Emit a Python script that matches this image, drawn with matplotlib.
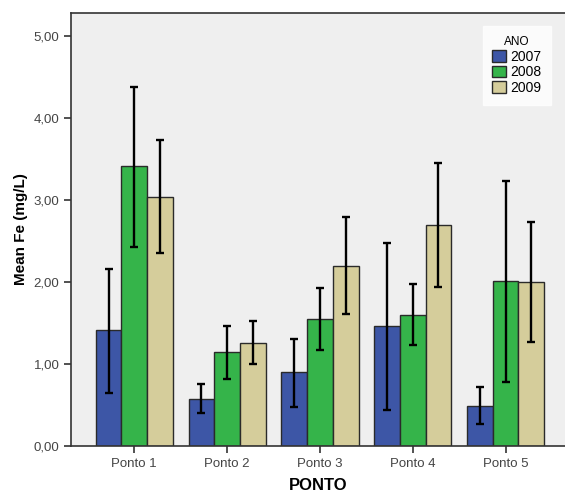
import matplotlib.pyplot as plt
import numpy as np

# data
pontos = ['Ponto 1', 'Ponto 2', 'Ponto 3', 'Ponto 4', 'Ponto 5']
anos = ['2007', '2008', '2009']
mean_2007 = [1.41, 0.57, 0.90, 1.46, 0.49]
mean_2008 = [3.41, 1.14, 1.55, 1.60, 2.01]
mean_2009 = [3.04, 1.26, 2.20, 2.70, 2.00]
low_2007 = [0.65, 0.40, 0.48, 0.44, 0.27]
high_2007 = [2.16, 0.76, 1.31, 2.47, 0.72]
low_2008 = [2.43, 0.82, 1.17, 1.23, 0.78]
high_2008 = [4.38, 1.46, 1.93, 1.98, 3.23]
low_2009 = [2.35, 1.00, 1.61, 1.94, 1.27]
high_2009 = [3.73, 1.52, 2.79, 3.45, 2.73]

colors = ['#3d56a6', '#35b44a', '#d5cd9b']

plt.rcParams['font.family'] = ['Liberation Sans', 'DejaVu Sans']

fig = plt.figure(figsize=(5.65, 4.95), dpi=100)
ax = fig.add_axes([0.126, 0.099, 0.874, 0.875])
ax.set_facecolor('#efefef')

x = np.arange(len(pontos))
w = 0.277
means = [mean_2007, mean_2008, mean_2009]
lows = [low_2007, low_2008, low_2009]
highs = [high_2007, high_2008, high_2009]
for i in range(3):
    pos = x + (i - 1) * w
    m = np.array(means[i])
    err = [m - np.array(lows[i]), np.array(highs[i]) - m]
    ax.bar(pos, m, w, color=colors[i], edgecolor='#2a2a2a', linewidth=1.0,
           label=anos[i], zorder=2)
    ax.errorbar(pos, m, yerr=err, fmt='none', ecolor='black', elinewidth=1.7,
                capsize=2.6, capthick=1.7, zorder=3)

ax.set_xlim(-0.68, 4.64)
ax.set_ylim(0, 5.28)
ax.set_yticks([0, 1, 2, 3, 4, 5])
ax.set_yticklabels(['0,00', '1,00', '2,00', '3,00', '4,00', '5,00'])
ax.set_xticks(x)
ax.set_xticklabels(pontos)
ax.tick_params(axis='both', labelsize=9.5, color='#333333', labelcolor='#444444',
               length=5, width=1.2)
ax.spines['right'].set_visible(False)
for s in ['left', 'bottom', 'top']:
    ax.spines[s].set_color('#333333')
    ax.spines[s].set_linewidth(1.2)

ax.set_ylabel('Mean Fe (mg/L)', fontsize=11, fontweight='bold', labelpad=4)
ax.set_xlabel('PONTO', fontsize=12, fontweight='bold', labelpad=6)

leg = ax.legend(title='ANO', loc='upper right', bbox_to_anchor=(0.985, 0.985),
                fontsize=10, title_fontsize=8.5, frameon=True, fancybox=False,
                edgecolor='white', handlelength=1.0, handleheight=0.9,
                handletextpad=0.25, labelspacing=0.12, borderpad=0.7)
leg.get_frame().set_facecolor('white')

plt.savefig('out.png', dpi=100)
